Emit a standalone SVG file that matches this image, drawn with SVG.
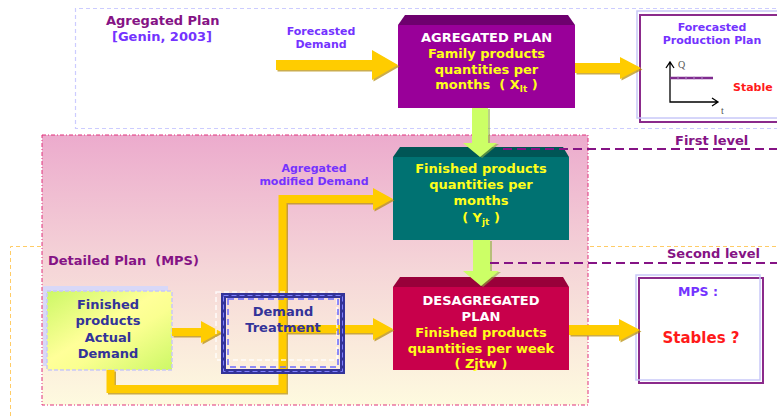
<svg xmlns="http://www.w3.org/2000/svg" width="777" height="419" viewBox="0 0 777 419">
<defs>
  <linearGradient id="pinkGrad" x1="0" y1="0" x2="0" y2="1">
    <stop offset="0" stop-color="#ECABCD"/>
    <stop offset="0.5" stop-color="#F5D6D8"/>
    <stop offset="1" stop-color="#FEFADF"/>
  </linearGradient>
  <linearGradient id="actualGrad" x1="0" y1="0" x2="1" y2="1">
    <stop offset="0" stop-color="#CCF866"/>
    <stop offset="0.45" stop-color="#FFFF99"/>
    <stop offset="0.6" stop-color="#FAFF90"/>
    <stop offset="1" stop-color="#CCF866"/>
  </linearGradient>
  <style>
    text { font-family: "DejaVu Sans", Verdana, sans-serif; font-weight: bold; }
    .c { text-anchor: middle; }
    .pre { white-space: pre; }
    .violet { fill: #7433FF; }
    .purple { fill: #851385; }
    .yel { fill: #FFFF1A; }
    .wht { fill: #FFFFFF; }
    .navy { fill: #333399; }
    .red { fill: #FF1A1A; }
    .s11 { font-size: 11px; }
    .s13 { font-size: 13px; }
    .axis { font-family: "Liberation Serif", serif; font-weight: normal; font-size: 10px; fill: #555555; }
    .yarrow { fill: #FFCC00; }
    .yshadow { fill: #B58A00; opacity: 0.7; }
    .yline { fill: none; stroke: #FFCC00; stroke-width: 8; }
    .ylineshadow { fill: none; stroke: #B58A00; stroke-width: 8; opacity: 0.7; }
    .garrow { fill: #CCFF66; }
    .gshadow { fill: #8DB33A; opacity: 0.6; }
    .level { stroke: #851385; stroke-width: 2; stroke-dasharray: 9 5; fill: none; }
    .lav { fill: none; stroke: #C8C8F8; stroke-width: 1.5; }
    .pbox { fill: #FFFFFF; stroke: #8B2A8B; stroke-width: 2; }
  </style>
</defs>

<!-- background regions -->
<g id="regions">
  <path d="M790,246.5 H10.5 V430" fill="none" stroke="#FFCC66" stroke-width="1" stroke-dasharray="4 3"/>
  <rect x="42" y="135" width="546" height="270" fill="url(#pinkGrad)" stroke="#E0307A" stroke-width="1" stroke-dasharray="4 2 1 2"/>
  <path d="M790,8.5 H75.5 V128.5 H790" fill="none" stroke="#CCCCFF" stroke-width="1.2" stroke-dasharray="4 3"/>
  <text class="s13 purple" x="106" y="25">Agregated Plan</text>
  <text class="s13 violet" x="112" y="41">[Genin, 2003]</text>
  <text class="s13 purple pre" x="48" y="265">Detailed Plan  (MPS)</text>
</g>

<!-- nodes -->
<g id="agregated">
  <polygon points="398,25 405,15 568,15 575,25" fill="#6E006E"/>
  <rect x="398" y="25" width="177" height="83" fill="#990099"/>
  <text class="c s13 wht" x="486.5" y="42">AGREGATED PLAN</text>
  <text class="c s13 yel" x="486.5" y="58">Family products</text>
  <text class="c s13 yel" x="486.5" y="74">quantities per</text>
  <text class="c s13 yel pre" x="486.5" y="89">months  ( X<tspan font-size="9" dy="3">lt</tspan><tspan dy="-3"> )</tspan></text>
</g>

<g id="forecasted-plan">
  <rect class="pbox" x="640" y="15" width="220" height="107"/>
  <rect class="lav" x="637" y="11" width="220" height="107"/>
  <text class="c s11 violet" x="712" y="31">Forecasted</text>
  <text class="c s11 violet" x="712" y="44">Production Plan</text>
  <path d="M670,62 V102 H718 M666,68 L670,62 L674,68 M712,98 L718,102 L712,106" fill="none" stroke="#000000" stroke-width="1.3"/>
  <path d="M670,78 H713" stroke="#7F2C8F" stroke-width="2.5"/>
  <path d="M678,76.5 v3 M686,76.5 v3 M694,76.5 v3 M702,76.5 v3" stroke="#B58CC8" stroke-width="1"/>
  <text class="axis" x="678" y="68">Q</text>
  <text class="axis" x="721" y="114">t</text>
  <text class="s11 red" x="733" y="91">Stable</text>
</g>

<g id="monthly">
  <polygon points="393,157 400,147 563,147 569,157" fill="#005656"/>
  <rect x="393" y="157" width="176" height="83" fill="#007272"/>
  <text class="c s13 yel" x="481" y="173">Finished products</text>
  <text class="c s13 yel" x="481" y="189">quantities per</text>
  <text class="c s13 yel" x="481" y="205">months</text>
  <text class="c s13 yel pre" x="481" y="222">( Y<tspan font-size="9" dy="3">jt</tspan><tspan dy="-3"> )</tspan></text>
</g>

<g id="desagregated">
  <polygon points="393,287 400,277 563,277 569,287" fill="#99003A"/>
  <rect x="393" y="287" width="176" height="83" fill="#C8004B"/>
  <text class="c s13 wht" x="481" y="305">DESAGREGATED</text>
  <text class="c s13 wht" x="481" y="321">PLAN</text>
  <text class="c s13 yel" x="481" y="337">Finished products</text>
  <text class="c s13 yel" x="481" y="353">quantities per week</text>
  <text class="c s13 yel" x="481" y="368">( Zjtw )</text>
</g>

<g id="mps">
  <rect class="pbox" x="639" y="278" width="124" height="105"/>
  <rect class="lav" x="636" y="275" width="124" height="105" stroke-width="1"/>
  <text class="c violet" font-size="12.5" x="698" y="296">MPS :</text>
  <text class="c red" font-size="15" x="701" y="343">Stables ?</text>
</g>

<g id="actual-demand">
  <rect x="43" y="286" width="125" height="80" fill="#D8D8F8"/>
  <rect x="47" y="291" width="125" height="79" fill="url(#actualGrad)" stroke="#C8C8F8" stroke-width="1.5" stroke-dasharray="4 2"/>
  <text class="c s13 navy" x="108" y="309">Finished</text>
  <text class="c s13 navy" x="108" y="325">products</text>
  <text class="c s13 navy" x="108" y="342">Actual</text>
  <text class="c s13 navy" x="108" y="358">Demand</text>
</g>

<!-- connectors -->
<g id="connectors">
  <path class="yshadow" transform="translate(1.5,1.5)" d="M276,60 H372 V50 L398,65 L372,80 V70 H276 Z"/>
  <path class="yarrow" d="M276,60 H372 V50 L398,65 L372,80 V70 H276 Z"/>
  <text class="c s11 violet" x="321" y="35">Forecasted</text>
  <text class="c s11 violet" x="321" y="48">Demand</text>

  <path class="yshadow" transform="translate(1.5,1.5)" d="M575,63 H620 V57 L641,68 L620,79 V73 H575 Z"/>
  <path class="yarrow" d="M575,63 H620 V57 L641,68 L620,79 V73 H575 Z"/>

  <path class="yshadow" transform="translate(1.5,1.5)" d="M569,325 H619 V319 L640,330 L619,341 V335 H569 Z"/>
  <path class="yarrow" d="M569,325 H619 V319 L640,330 L619,341 V335 H569 Z"/>

  <path class="yshadow" transform="translate(1.5,1.5)" d="M172,328 H201 V321 L221,332 L201,343 V336 H172 Z"/>
  <path class="yarrow" d="M172,328 H201 V321 L221,332 L201,343 V336 H172 Z"/>

  <path class="ylineshadow" transform="translate(1.5,1.5)" d="M110.5,370 V389 H282.5 V199 H375"/>
  <path class="yshadow" transform="translate(1.5,1.5)" d="M373,188 L393,199 L373,210 Z"/>
  <path class="yline" d="M110.5,370 V389 H282.5 V199 H375"/>
  <path class="yarrow" d="M373,188 L393,199 L373,210 Z"/>
  <text class="c s11 violet" x="314" y="172">Agregated</text>
  <text class="c s11 violet" x="314" y="185">modified Demand</text>

  <path class="yshadow" transform="translate(1.5,1.5)" d="M286,325 H373 V318 L393,329 L373,340 V333 H286 Z"/>
  <path class="yarrow" d="M283,325 H373 V318 L393,329 L373,340 V333 H283 Z"/>

  <path class="gshadow" transform="translate(2,1)" d="M472,108 H488 V143 H497 L480,157 L463,143 H472 Z"/>
  <path class="garrow" d="M472,108 H488 V143 H497 L480,157 L463,143 H472 Z"/>
  <path class="gshadow" transform="translate(2,1)" d="M473,240 H490 V271 H499 L481,286 L463,271 H473 Z"/>
  <path class="garrow" d="M473,240 H490 V271 H499 L481,286 L463,271 H473 Z"/>
</g>

<g id="demand-treatment">
  <rect x="216" y="292" width="121" height="68" fill="none" stroke="#FFFFFF" stroke-width="1.5" stroke-dasharray="5 3" opacity="0.85"/>
  <rect x="223.5" y="295.5" width="119" height="76" fill="none" stroke="#333399" stroke-width="5"/>
  <rect x="223.5" y="295.5" width="119" height="76" fill="none" stroke="#8080FF" stroke-width="1" stroke-dasharray="5 3"/>
  <rect x="228" y="299" width="110" height="68" fill="none" stroke="#6A6AFF" stroke-width="1.5" stroke-dasharray="6 4"/>
  <text class="c s13 navy" x="283" y="316">Demand</text>
  <text class="c s13 navy" x="283" y="332">Treatment</text>
</g>

<!-- level separators -->
<g id="levels">
  <path class="level" d="M503,149 H777"/>
  <path class="level" d="M490,263 H777"/>
  <text class="s13 purple" x="675" y="145">First level</text>
  <text class="s13 purple" x="667" y="258">Second level</text>
</g>
</svg>
